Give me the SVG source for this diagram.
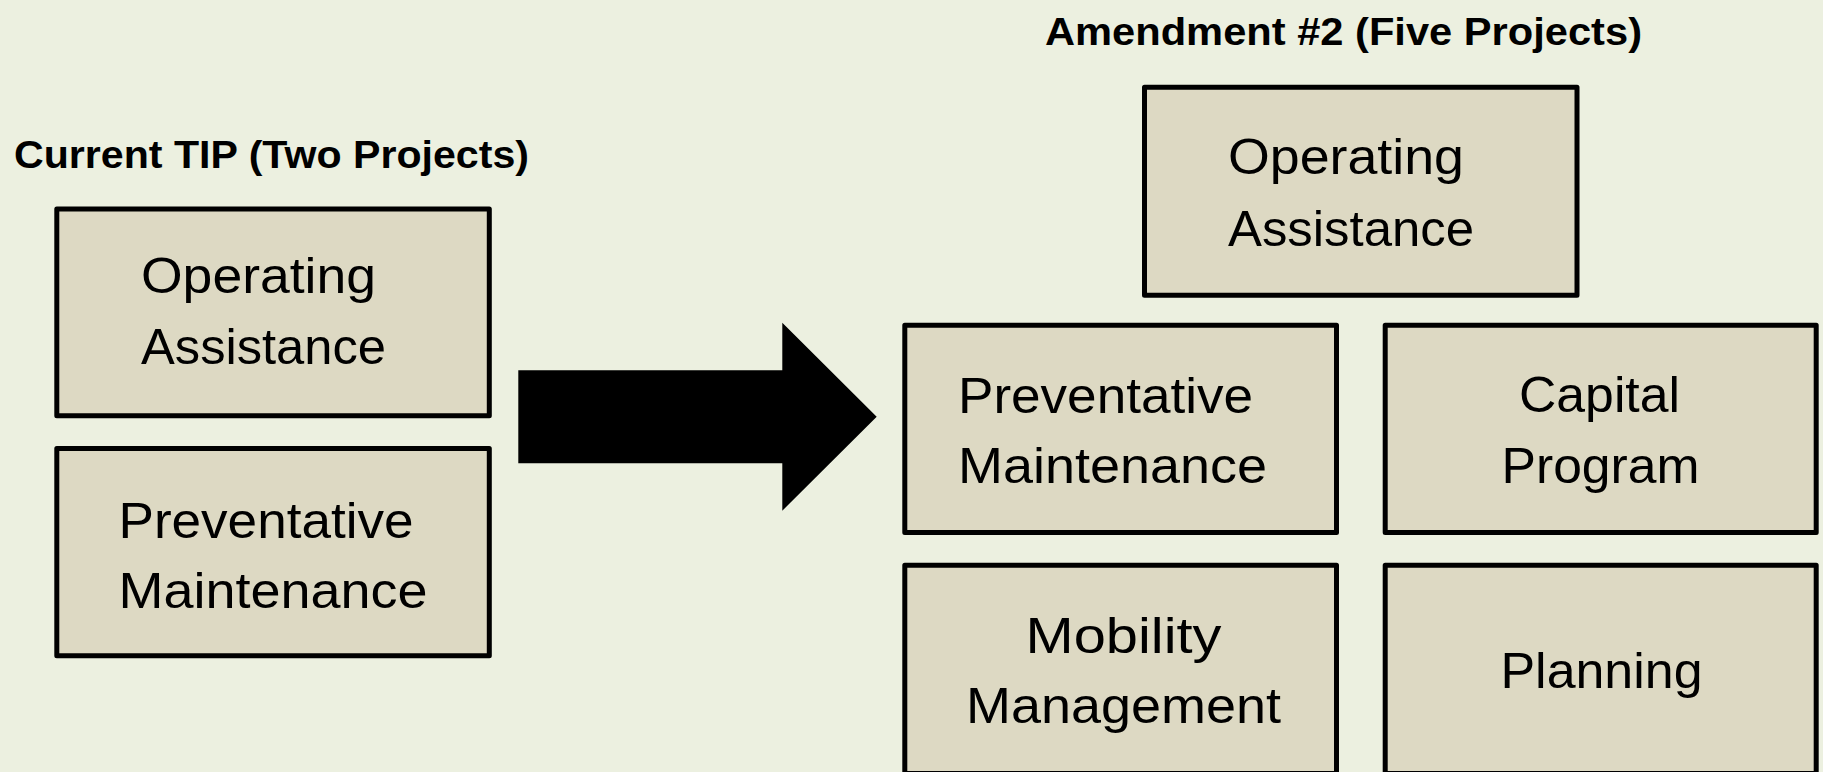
<svg xmlns="http://www.w3.org/2000/svg" width="1823" height="772" viewBox="0 0 1823 772">
<style>
.bg{fill:#ECF0E0}
.box{fill:#DDD9C3;stroke:#000;stroke-width:5;stroke-linejoin:round}
.lbl{font-family:"Liberation Sans",Arial,sans-serif;font-size:50px;fill:#000}
.ttl{font-family:"Liberation Sans",Arial,sans-serif;font-size:38px;font-weight:bold;fill:#000}
</style>
<rect class="bg" x="0" y="0" width="1823" height="772"/>
<g id="title-current">
<text class="ttl" x="14" y="168" textLength="515" lengthAdjust="spacingAndGlyphs">Current TIP (Two Projects)</text>
</g>
<g id="title-amendment">
<text class="ttl" x="1045" y="45" textLength="597" lengthAdjust="spacingAndGlyphs">Amendment #2 (Five Projects)</text>
</g>
<g id="cur-operating">
<rect class="box" x="56.8" y="209" width="432.5" height="206.7"/>
<text class="lbl" x="141" y="293" textLength="235" lengthAdjust="spacingAndGlyphs">Operating</text>
<text class="lbl" x="141" y="363.5" textLength="245" lengthAdjust="spacingAndGlyphs">Assistance</text>
</g>
<g id="cur-preventative">
<rect class="box" x="56.8" y="448.5" width="432.5" height="207.2"/>
<text class="lbl" x="118.5" y="538" textLength="295" lengthAdjust="spacingAndGlyphs">Preventative</text>
<text class="lbl" x="118.5" y="608" textLength="309" lengthAdjust="spacingAndGlyphs">Maintenance</text>
</g>
<g id="connectors">
<polygon points="518.3,370.3 782.3,370.3 782.3,322.7 876.7,416.7 782.3,510.7 782.3,463.3 518.3,463.3" fill="#000"/>
</g>
<g id="new-operating">
<rect class="box" x="1144.5" y="87.3" width="432.5" height="208"/>
<text class="lbl" x="1228" y="174" textLength="236" lengthAdjust="spacingAndGlyphs">Operating</text>
<text class="lbl" x="1228" y="245.5" textLength="246" lengthAdjust="spacingAndGlyphs">Assistance</text>
</g>
<g id="new-preventative">
<rect class="box" x="904.8" y="325.2" width="431.7" height="207.3"/>
<text class="lbl" x="958" y="412.7" textLength="295" lengthAdjust="spacingAndGlyphs">Preventative</text>
<text class="lbl" x="958" y="482.7" textLength="309" lengthAdjust="spacingAndGlyphs">Maintenance</text>
</g>
<g id="new-capital">
<rect class="box" x="1385.2" y="325.2" width="431" height="207.3"/>
<text class="lbl" x="1519" y="411.7" textLength="161" lengthAdjust="spacingAndGlyphs">Capital</text>
<text class="lbl" x="1501.5" y="482.7" textLength="198" lengthAdjust="spacingAndGlyphs">Program</text>
</g>
<g id="new-mobility">
<rect class="box" x="904.8" y="565.2" width="431.7" height="208.3"/>
<text class="lbl" x="1025.5" y="652.7" textLength="196" lengthAdjust="spacingAndGlyphs">Mobility</text>
<text class="lbl" x="966" y="723.3" textLength="315" lengthAdjust="spacingAndGlyphs">Management</text>
</g>
<g id="new-planning">
<rect class="box" x="1385.2" y="565.2" width="431" height="208.3"/>
<text class="lbl" x="1500.5" y="688.3" textLength="202" lengthAdjust="spacingAndGlyphs">Planning</text>
</g>
</svg>
